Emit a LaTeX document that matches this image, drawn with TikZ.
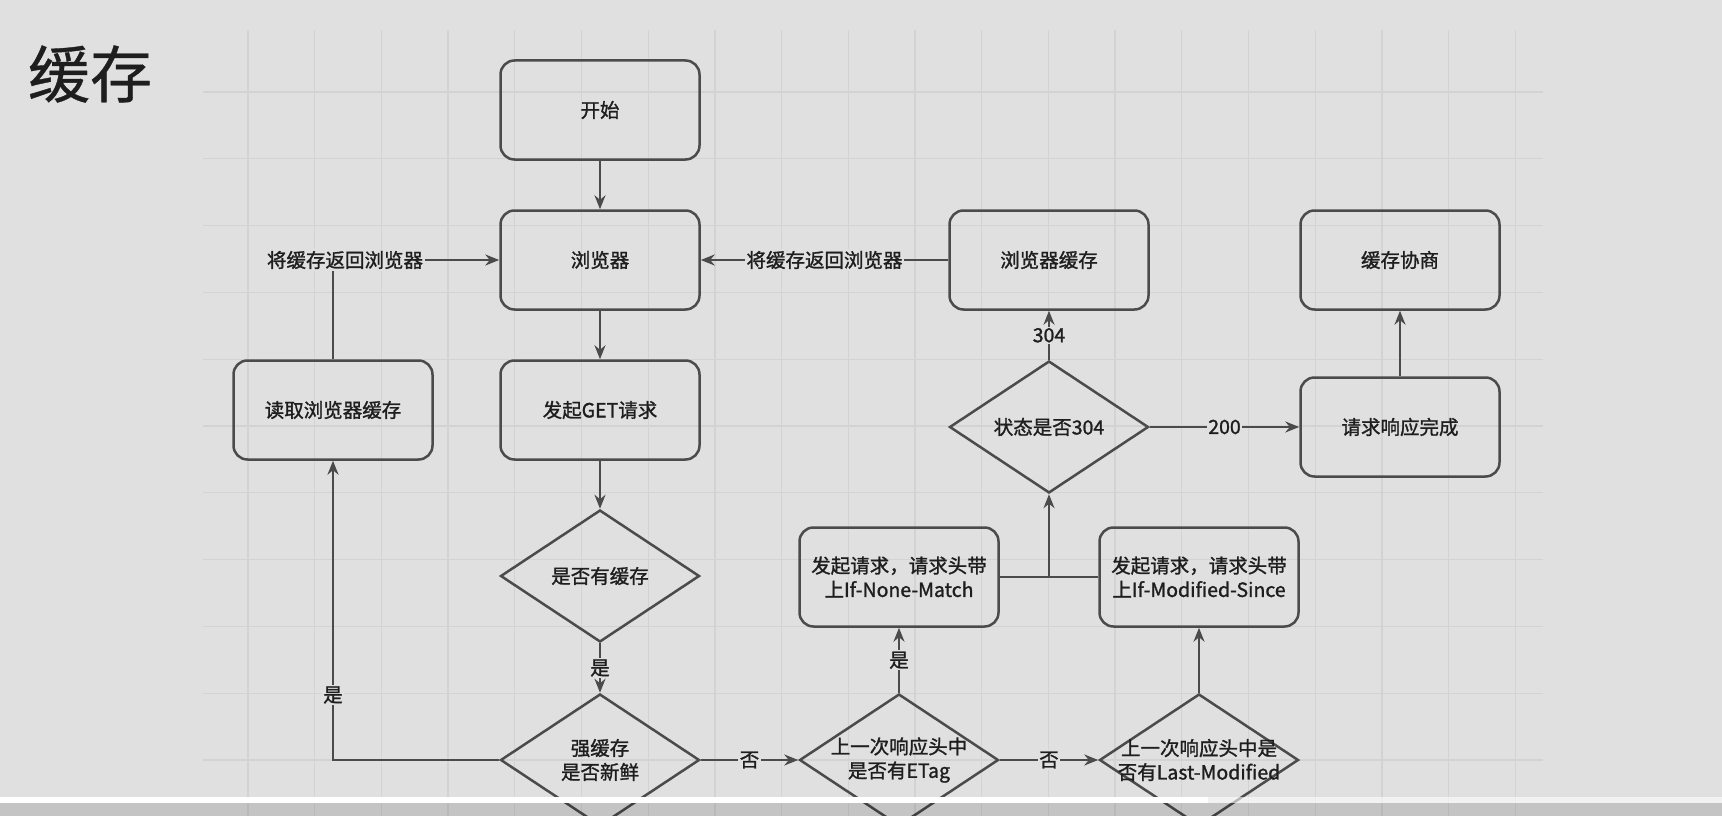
\documentclass[tikz,border=0pt]{standalone}
\usepackage{fontspec}
\setmainfont{Noto Sans CJK SC}
\newfontfamily\cjkb[FakeBold=1.3]{Noto Sans CJK SC}
\newfontfamily\cjkt[FakeBold=0.6]{Noto Sans CJK SC}
\usetikzlibrary{shapes.geometric,arrows.meta,calc}
\definecolor{bgc}{RGB}{224,224,224}
\definecolor{gridc}{RGB}{211,211,211}
\definecolor{edgec}{RGB}{75,75,75}
\definecolor{txtc}{RGB}{30,30,30}
\newcommand\lbl{\cjkb\fontsize{19.5}{24}\selectfont}
\tikzset{
  box/.style={draw=edgec, line width=2.5pt, rounded corners=14pt, minimum width=199pt, minimum height=99pt, inner sep=0pt, font=\lbl, text=txtc, align=center},
  dia/.style={draw=edgec, line width=2.5pt, diamond, shape aspect=1.508, minimum width=199pt, minimum height=132pt, inner sep=0pt},
  dtext/.style={font=\lbl, text=txtc, align=center},
  arr/.style={draw=edgec, line width=2.2pt, -{Stealth[length=14pt,width=11pt]}},
  ln/.style={draw=edgec, line width=2.2pt},
  elbl/.style={fill=bgc, inner sep=1.5pt, font=\lbl, text=txtc},
}
\begin{document}
\begin{tikzpicture}[x=1pt, y=-1pt]
\useasboundingbox (0,0) rectangle (1722,816);
\clip (0,0) rectangle (1722,816);
\fill[bgc] (0,0) rectangle (1722,816);
% grid
\foreach \k in {0,...,19} {
  \draw[gridc, line width=1.3pt] ({248+66.7*\k},30) -- ({248+66.7*\k},816);
}
\foreach \k in {0,...,10} {
  \draw[gridc, line width=1.3pt] (203,{92+66.8*\k}) -- (1543,{92+66.8*\k});
}
% title
\node[font=\cjkt\fontsize{62}{70}\selectfont, text=txtc, anchor=center] (title) at (90,74) {缓存};
% boxes
\node[box] (start) at (600,110) {开始};
\node[box] (browser) at (600,260) {浏览器};
\node[box] (get) at (600,410) {发起GET请求};
\node[box] (read) at (333,410) {读取浏览器缓存};
\node[box] (bcache) at (1049,260) {浏览器缓存};
\node[box] (nego) at (1400,260) {缓存协商};
\node[box] (done) at (1400,427) {请求响应完成};
\node[box] (nm) at (899,577) {发起请求，请求头带\\上If-None-Match};
\node[box] (ms) at (1199,577) {发起请求，请求头带\\上If-Modified-Since};
% diamonds
\node[dia, label={[dtext]center:是否有缓存}] (has) at (600,576) {};
\node[dia, label={[dtext]center:强缓存\\是否新鲜}] (fresh) at (600,760) {};
\node[dia, label={[dtext]center:上一次响应头中\\是否有ETag}] (etag) at (899,760) {};
\node[dia, label={[dtext]center:上一次响应头中是\\否有Last-Modified}] (lm) at (1199,760) {};
\node[dia, label={[dtext]center:状态是否304}] (st) at (1049,427) {};
% connectors
\draw[arr] (start) -- (browser);
\draw[arr] (browser) -- (get);
\draw[arr] (get) -- (has);
\draw[arr] (has) -- node[elbl] (l1) {是} (fresh);
\draw[arr] (fresh.west) -| (read.south);
\node[elbl] (l2) at (333,695) {是};
\coordinate (rc) at (333,260);
\draw[ln] (read.north) -- (rc);
\node[elbl] (l3) at (345,260) {将缓存返回浏览器};
\draw[arr] (l3.east) -- (browser.west);
\draw[arr] (fresh.east) -- node[elbl] (l4) {否} (etag.west);
\draw[arr] (etag.north) -- node[elbl] (l5) {是} (nm.south);
\draw[arr] (etag.east) -- node[elbl] (l6) {否} (lm.west);
\draw[arr] (lm.north) -- (ms.south);
\coordinate (j) at ($(nm.east)!0.5!(ms.west)$);
\draw[ln] (nm.east) -- (ms.west);
\draw[arr] (j) -- (st.south);
\draw[arr] (st.north) -- node[elbl] (l7) {304} (bcache.south);
\draw[arr] (bcache.west) -- node[elbl] (l8) {将缓存返回浏览器} (browser.east);
\draw[arr] (st.east) -- node[elbl] (l9) {200} (done.west);
\draw[arr] (done) -- (nego);
% bottom overlay bar
\fill[white] (0,797) rectangle (1208,803);
\fill[white, opacity=0.6] (1208,797) rectangle (1722,803);
\fill[black, opacity=0.12] (0,803) rectangle (1722,816);
\end{tikzpicture}
\end{document}
